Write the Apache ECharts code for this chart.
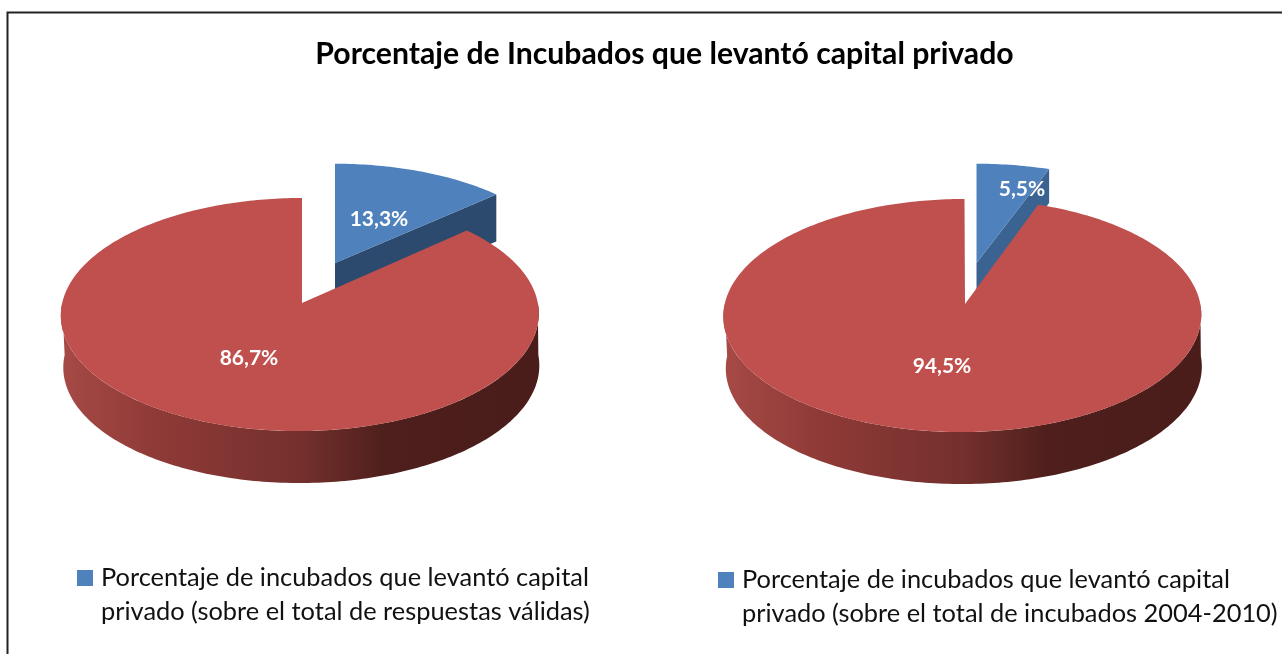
<!DOCTYPE html>
<html><head><meta charset="utf-8">
<style>html,body{margin:0;padding:0;background:#fff;overflow:hidden}#c{width:1282px;height:654px}</style>
<script src="https://cdn.jsdelivr.net/npm/echarts@6/dist/echarts.min.js"></script>
</head><body><div id="c"></div>
<script>
const titleText = 'Porcentaje de Incubados que levantó capital privado';
const leftName = 'Porcentaje de incubados que levantó capital privado (sobre el total de respuestas válidas)';
const rightName = 'Porcentaje de incubados que levantó capital privado (sobre el total de incubados 2004-2010)';
const leftValues = [13.3, 86.7];
const rightValues = [5.5, 94.5];

const FONT = 'Lato';
const BLUE = '#4f81bd', RED = '#c0504d';
const K = 0.0987, SX = 237.8, SY = 115.4, DEPTH = 52, SHEAR = -2;

// Perspective projection of a point on the rim of the unit disc.
function rim(ax, ay, deg, sx, sy, shear) {
  const t = deg * Math.PI / 180, X = Math.sin(t), Y = -Math.cos(t), w = 1 - K * Y;
  return [ax + sx * SX * X / w + shear * Y, ay + sy * SY * Y / w];
}
function arc(ax, ay, a0, a1, sx, sy, shear) {
  const out = [], n = Math.max(2, Math.ceil(Math.abs(a1 - a0)));
  for (let i = 0; i <= n; i++) out.push(rim(ax, ay, a0 + (a1 - a0) * i / n, sx, sy, shear));
  return out;
}
const pct = v => v.toFixed(1).replace('.', ',') + '%';
const label = (text, x, y) => ({
  type: 'text', z2: 20, silent: true,
  style: { text, x, y, fill: '#fff', font: 'bold 21px ' + FONT, align: 'center', verticalAlign: 'middle' }
});

function pieRenderer(L) {
  return function (params, api) {
    const v = api.value(0);
    const sweep = L.values[0] / 100 * 360;
    if (params.dataIndex === 0) {
      const a = arc(L.bx, L.by, 0, sweep, L.bsx, L.bsy, 0);
      const tip = a[a.length - 1];
      const top = { type: 'polygon', shape: { points: [[L.bx, L.by]].concat(a) }, style: { fill: BLUE } };
      const wall = {
        type: 'polygon',
        shape: { points: [[L.bx, L.by], tip, [tip[0], tip[1] + L.bd], [L.bx, L.by + L.bd]] },
        style: { fill: L.wall }
      };
      return { type: 'group', children: [wall, top, label(pct(v), L.lb[0], L.lb[1])] };
    }
    const front = arc(L.cx, L.ay, 90, 270, 1, 1, SHEAR);
    const lower = front.slice().reverse().map(p => [L.cx + (p[0] - L.cx) * 0.996 + 1.5, p[1] + DEPTH]);
    const side = {
      type: 'polygon', shape: { points: front.concat(lower) },
      style: {
        fill: {
          type: 'linear', global: true, x: L.cx - 239, y: 0, x2: L.cx + 239, y2: 0,
          colorStops: [
            { offset: 0, color: '#a64a46' }, { offset: 0.2, color: '#8f3a37' },
            { offset: 0.5, color: '#74302d' }, { offset: 0.68, color: '#4e1f1c' },
            { offset: 1, color: '#4a1d1a' }
          ]
        }
      }
    };
    const top = {
      type: 'polygon',
      shape: { points: [[L.ax, L.ay]].concat(arc(L.cx, L.ay, sweep, 360, 1, 1, SHEAR)) },
      style: { fill: RED }
    };
    return { type: 'group', children: [side, top, label(pct(v), L.lr[0], L.lr[1])] };
  };
}

const leftLayout = { values: leftValues, cx: 300, ax: 302, ay: 303, bx: 335, by: 263, bsx: 0.975, bsy: 0.945, bd: 47,
  wall: '#2c4a6e', lb: [379, 219], lr: [249, 358] };
const rightLayout = { values: rightValues, cx: 962.5, ax: 965, ay: 304, bx: 976.5, by: 263, bsx: 0.985, bsy: 0.945, bd: 34,
  wall: '#3a6391', lb: [1022, 189], lr: [942, 366] };

const wrap = name => {
  const i = name.indexOf(' (');
  const head = name.slice(0, i), brk = head.lastIndexOf(' ');
  return '\n' + head.slice(0, brk) + '\n' + name.slice(brk + 1);
};
const legendBase = {
  orient: 'vertical', icon: 'rect', itemWidth: 16, itemHeight: 16, itemGap: 0, padding: 0,
  selectedMode: false, formatter: wrap,
  textStyle: { fontFamily: FONT, fontSize: 25.4, lineHeight: 34, color: '#111', padding: [0, 0, 0, 3] }
};

const chart = echarts.init(document.getElementById('c'), null, { renderer: 'canvas' });
chart.setOption({
  animation: false,
  backgroundColor: '#fff',
  title: {
    text: titleText, left: 659.5, top: 34, textAlign: 'center',
    textStyle: { fontFamily: FONT, fontSize: 30.2, fontWeight: 'bold', color: '#000' }
  },
  legend: [
    Object.assign({}, legendBase, { data: [leftName], left: 77, top: 527 }),
    Object.assign({}, legendBase, { data: [rightName], left: 718, top: 529 })
  ],
  graphic: [
    { type: 'polyline', silent: true, shape: { points: [[7.5, 654], [7.5, 12.5], [1282, 12.5]] },
      style: { stroke: '#222', lineWidth: 2, fill: null } }
  ],
  series: [
    { type: 'custom', name: leftName, coordinateSystem: 'none', silent: true,
      itemStyle: { color: BLUE }, data: leftValues.map(v => [v]), renderItem: pieRenderer(leftLayout) },
    { type: 'custom', name: rightName, coordinateSystem: 'none', silent: true,
      itemStyle: { color: BLUE }, data: rightValues.map(v => [v]), renderItem: pieRenderer(rightLayout) }
  ]
});
</script></body></html>
